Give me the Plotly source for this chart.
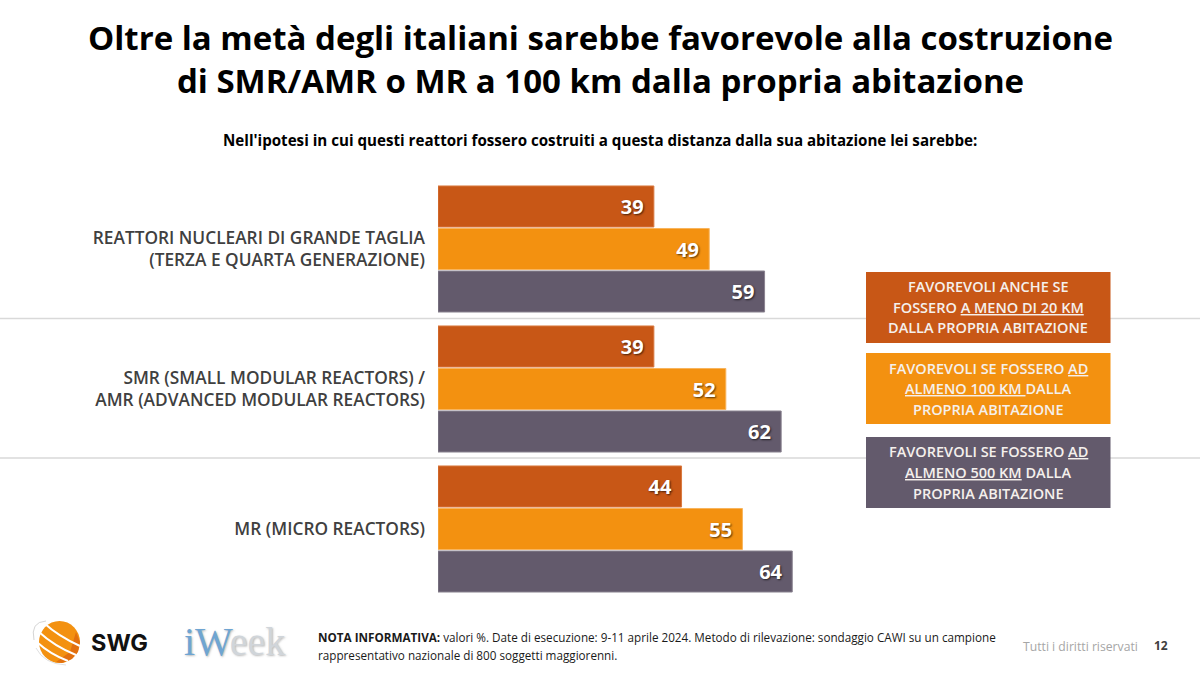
import plotly.graph_objects as go

FONT = "Open Sans"
categories = ["REATTORI NUCLEARI DI GRANDE TAGLIA<br>(TERZA E QUARTA GENERAZIONE)",
              "SMR (SMALL MODULAR REACTORS) /<br>AMR (ADVANCED MODULAR REACTORS)",
              "MR (MICRO REACTORS)"]
km20 = [39, 39, 44]
km100 = [49, 52, 55]
km500 = [59, 62, 64]
series_names = ["Favorevoli a meno di 20 km", "Favorevoli ad almeno 100 km", "Favorevoli ad almeno 500 km"]
C1, C2, C3 = "#C85716", "#F39110", "#635A6C"
title = "<b>Oltre la metà degli italiani sarebbe favorevole alla costruzione<br>di SMR/AMR o MR a 100 km dalla propria abitazione</b>"
subtitle = "<b>Nell'ipotesi in cui questi reattori fossero costruiti a questa distanza dalla sua abitazione lei sarebbe:</b>"
legend_texts = [
    ["FAVOREVOLI ANCHE SE", "FOSSERO <u>A MENO DI 20 KM</u>", "DALLA PROPRIA ABITAZIONE"],
    ["FAVOREVOLI SE FOSSERO <u>AD</u>", "<u>ALMENO 100 KM </u>DALLA", "PROPRIA ABITAZIONE"],
    ["FAVOREVOLI SE FOSSERO <u>AD</u>", "<u>ALMENO 500 KM</u> DALLA", "PROPRIA ABITAZIONE"],
]
note_lines = ["<b>NOTA INFORMATIVA:</b> valori %. Date di esecuzione: 9-11 aprile 2024. Metodo di rilevazione: sondaggio CAWI su un campione",
              "rappresentativo nazionale di 800 soggetti maggiorenni."]

W, H = 1200, 675
px = lambda x: x / W
py = lambda y: 1 - y / H

fig = go.Figure()
for name, vals, col, edge in [(series_names[0], km20, C1, "#D9793F"),
                              (series_names[1], km100, C2, "#F8B45C"),
                              (series_names[2], km500, C3, "#8A8390")]:
    fig.add_trace(go.Bar(
        y=categories, x=vals, name=name, orientation="h",
        marker=dict(color=col, line=dict(color=edge, width=1)),
        texttemplate="%{x}\u00a0\u200a", textposition="inside", insidetextanchor="end", textangle=0,
        cliponaxis=False, constraintext="none",
        insidetextfont=dict(family=FONT, size=20, color="white", weight=700,
                            shadow="1px 1px 2px rgba(0,0,0,0.65)"),
        hoverinfo="x+name",
    ))

shapes = []
for y in (318.5, 458):
    shapes.append(dict(type="line", xref="paper", yref="paper", x0=0, x1=1, y0=py(y), y1=py(y),
                       line=dict(color="#D9D9D9", width=1.3), layer="below"))
boxes = [(272, 343, C1), (353, 424, C2), (437, 508, C3)]
for y0, y1, c in boxes:
    shapes.append(dict(type="rect", xref="paper", yref="paper", x0=px(866), x1=px(1110.5),
                       y0=py(y0), y1=py(y1), fillcolor=c, line=dict(width=0), layer="above"))

# SWG logo (decorative)
def curve(pts, **kw):
    (a, b), (c, d), (e, f) = pts
    return dict(type="path", xref="paper", yref="paper", layer="above",
                path=f"M {px(a)} {py(b)} Q {px(c)} {py(d)} {px(e)} {py(f)}", **kw)
shapes.append(dict(type="circle", xref="paper", yref="paper", x0=px(39), x1=px(80), y0=py(663), y1=py(621),
                   fillcolor="#F39110", line=dict(width=0)))
shapes.append(dict(type="path", xref="paper", yref="paper", layer="above",
                   path=" ".join(f"{'M' if i==0 else 'L'} {px(x)} {py(y)}" for i, (x, y) in enumerate(
                       [(80,642),(78,652),(72,659),(62,663),(56,662),(70,652),(76,632)])) + " Z",
                   fillcolor="#E2700F", line=dict(width=0)))
for pts in [((44, 623), (58, 636), (80, 646)), ((39, 632), (54, 646), (76, 655)),
            ((38, 643), (50, 654), (68, 661))]:
    shapes.append(curve(pts, line=dict(color="white", width=2)))
shapes.append(curve(((34, 640), (30, 622), (46, 621)), line=dict(color="#D5D5D5", width=1)))
shapes.append(curve(((36, 648), (44, 664), (66, 665)), line=dict(color="#E0E0E0", width=1)))

annots = []
def add_text(x, y, text, size, color="#000000", xanchor="center", align="center", family=FONT, **kw):
    font = dict(family=family, size=size, color=color)
    font.update(kw)
    annots.append(dict(xref="paper", yref="paper", x=px(x), y=py(y), text=text, showarrow=False,
                       xanchor=xanchor, yanchor="middle", align=align, font=font, borderpad=0, borderwidth=0))

add_text(600, 59, title, 33)
add_text(600, 140, subtitle, 15.15)
for (y0, y1, c), lines in zip(boxes, legend_texts):
    mid = (y0 + y1) / 2
    for i, t in enumerate(lines):
        add_text(988, mid + (i - 1) * 20.5, t, 14.5, color="#F5F0EC", weight=600)
add_text(318, 637, note_lines[0], 11.7, xanchor="left", align="left", color="#1A1A1A")
add_text(318, 655, note_lines[1], 11.7, xanchor="left", align="left", color="#1A1A1A")
add_text(1023, 646, "Tutti i diritti riservati", 12.2, color="#A6A6A6", xanchor="left")
add_text(1161, 645, "<b>12</b>", 12, color="#404040")
add_text(91, 642, "<b>SWG</b>", 23.5, xanchor="left", color="#111111", family="Inter", weight=800)
add_text(184, 641, "<span style='color:#6FA5D2'>iW</span><span style='color:#D0D5DA'>eek</span>", 40,
         xanchor="left", family="Liberation Serif",
         shadow="1px 1px 2px rgba(120,120,120,0.5)")

fig.update_layout(
    width=W, height=H, margin=dict(l=0, r=0, t=0, b=0, pad=0), autosize=False,
    paper_bgcolor="white", plot_bgcolor="rgba(0,0,0,0)", showlegend=False,
    barmode="group", bargap=0.089, bargroupgap=0.035,
    xaxis=dict(domain=[px(438), px(438 + 553.5)], range=[0, 100], visible=False),
    yaxis=dict(domain=[py(599), py(179)], autorange="reversed", anchor="free", position=px(438),
               showline=False, showgrid=False, ticks="", ticklabelstandoff=13,
               tickfont=dict(family=FONT, size=17.3, color="#404040", weight=600)),
    shapes=shapes, annotations=annots,
    font=dict(family=FONT),
)
fig.write_html("out.html", config=dict(displayModeBar=False),
               post_script="document.body.style.margin='0';window.dispatchEvent(new Event('resize'));")
